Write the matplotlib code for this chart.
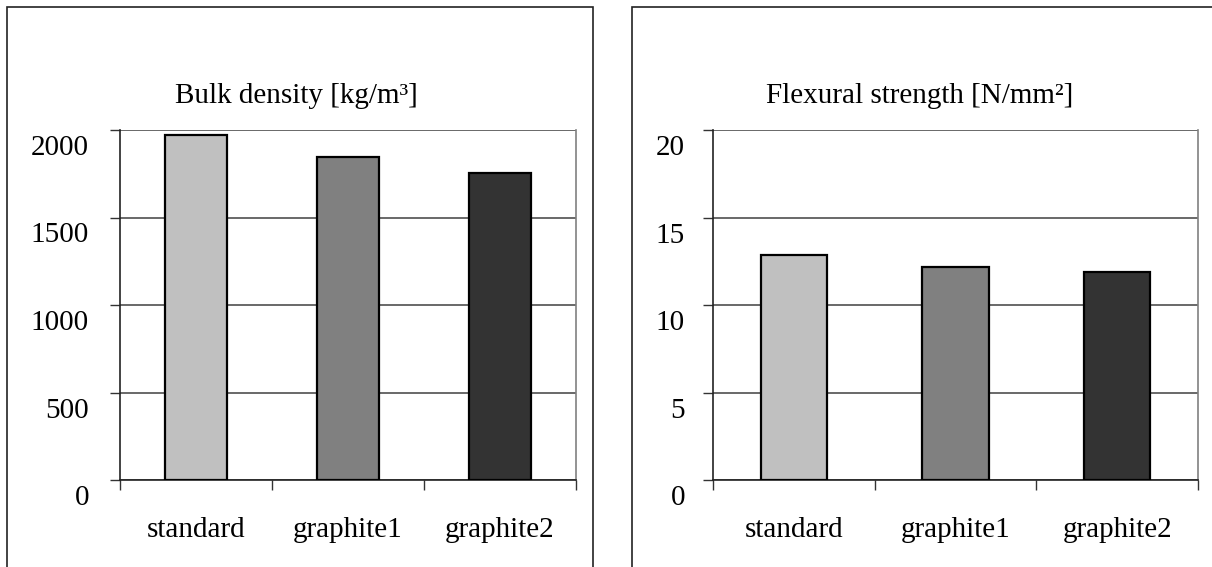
import matplotlib.pyplot as plt
import matplotlib.transforms as mtransforms
from matplotlib.patches import Rectangle

# data
categories = ["standard", "graphite1", "graphite2"]
bulk_density = [1970, 1846, 1754]
flexural_strength = [12.86, 12.17, 11.89]
bar_colors = ["#C0C0C0", "#808080", "#333333"]

density_ticks = [0, 500, 1000, 1500, 2000]
strength_ticks = [0, 5, 10, 15, 20]

W, H = 1212, 567
plt.rcParams['font.family'] = ['Liberation Serif', 'DejaVu Serif']
fig = plt.figure(figsize=(W / 100, H / 100), dpi=100)


def px_axes(left, right, top, bottom):
    return fig.add_axes([left / W, (H - bottom) / H, (right - left) / W, (bottom - top) / H])


def panel_box(left, right):
    fig.patches.append(Rectangle((left / W, -0.1), (right - left) / W, 1.1 - 7 / H,
                                 transform=fig.transFigure, fill=False,
                                 edgecolor="#222222", linewidth=1.2))


def draw_panel(ax, values, ticks, title, title_x, label_gap):
    ax.bar(range(len(values)), values, width=0.41, color=bar_colors,
           edgecolor="black", linewidth=1.6, zorder=3)
    ax.set_xlim(-0.5, len(values) - 0.5)
    ax.set_ylim(ticks[0], ticks[-1])
    ax.set_yticks(ticks)
    ax.yaxis.grid(True, color="#404040", linewidth=1.1, zorder=0)
    ax.set_axisbelow(True)
    ax.tick_params(axis="y", length=7.5, width=1, color="#333333", labelleft=False)
    ax.set_xticks([i - 0.5 for i in range(len(values) + 1)])
    ax.tick_params(axis="x", length=7.5, width=1, color="#333333", labelbottom=False)
    for s in ["left", "bottom"]:
        ax.spines[s].set_color("#222222")
        ax.spines[s].set_linewidth(1.2)
    ax.spines["top"].set_visible(False)
    ax.spines["right"].set_color("#808080")
    ax.spines["right"].set_linewidth(1.2)

    # y labels sit below their grid lines
    off_y = mtransforms.ScaledTranslation(-label_gap / 100, -25 / 100, fig.dpi_scale_trans)
    for t in ticks:
        ax.text(0, t, str(t), transform=ax.get_yaxis_transform() + off_y,
                ha="right", va="baseline", fontsize=21)
    off_x = mtransforms.ScaledTranslation(0, -57 / 100, fig.dpi_scale_trans)
    for i, c in enumerate(categories):
        ax.text(i, 0, c, transform=ax.get_xaxis_transform() + off_x,
                ha="center", va="baseline", fontsize=21)
    fig.text(title_x / W, (H - 103) / H, title, ha="center", va="baseline", fontsize=21)


panel_box(7, 593)
panel_box(632, 1240)

ax1 = px_axes(120, 576, 130, 480)
draw_panel(ax1, bulk_density, density_ticks, "Bulk density [kg/m³]", 296, 31)

ax2 = px_axes(713, 1198, 130, 480)
draw_panel(ax2, flexural_strength, strength_ticks, "Flexural strength [N/mm²]", 920, 28)

fig.savefig("out.png", dpi=100)
